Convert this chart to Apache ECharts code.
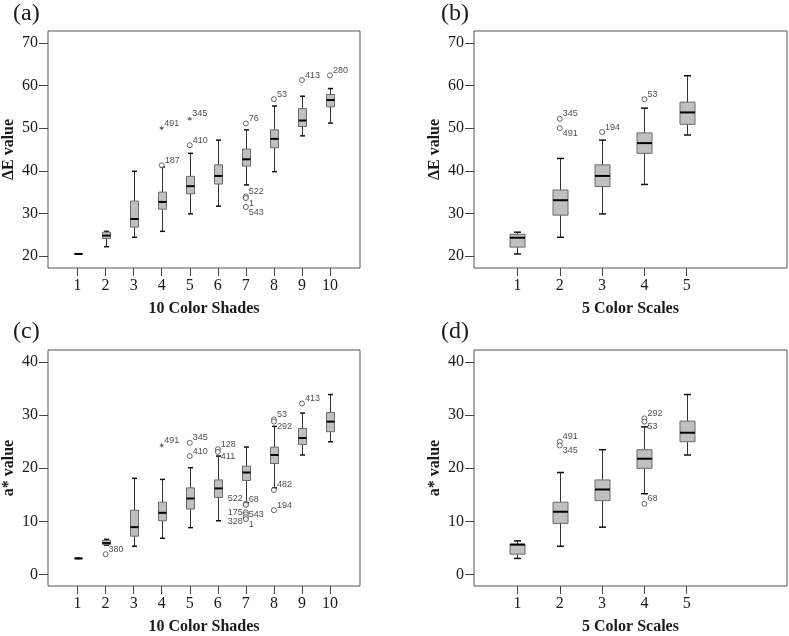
<!DOCTYPE html>
<html><head><meta charset="utf-8">
<script src="https://cdn.jsdelivr.net/npm/echarts@6/dist/echarts.min.js"></script>
<style>html,body{margin:0;padding:0;background:#fff}#c{width:789px;height:636px}</style>
</head><body><div id="c"></div>
<script>
// ---------------- DATA ----------------
const catsShades = [1,2,3,4,5,6,7,8,9,10];
const catsScales = [1,2,3,4,5];
const ticksDE = [20,30,40,50,60,70];
const ticksA = [0,10,20,30,40];

// [min, Q1, median, Q3, max]
const boxA = [
  [20.5,20.5,20.5,20.5,20.5],
  [22.2,24.1,24.8,25.6,25.8],
  [24.4,26.8,28.7,32.9,39.9],
  [25.8,31.0,32.7,35.0,40.9],
  [29.9,34.6,36.4,38.7,44.1],
  [31.7,36.9,38.8,41.4,47.2],
  [36.7,41.1,42.7,45.1,49.6],
  [39.8,45.4,47.5,49.6,55.2],
  [48.2,50.4,51.8,54.6,57.5],
  [51.2,55.0,56.6,57.9,59.3]
];
const outA  = [[4,41.3,'187'],[5,46.0,'410'],[7,51.1,'76'],[7,34.0,'522'],[7,33.6,'1'],[7,31.5,'543'],[8,56.8,'53'],[9,61.3,'413'],[10,62.4,'280']];
const starA = [[4,50.0,'491'],[5,52.2,'345']];

const boxB = [
  [20.5,22.1,24.3,25.1,25.6],
  [24.4,29.6,33.1,35.5,42.9],
  [29.9,36.3,38.8,41.4,47.2],
  [36.8,44.1,46.5,48.9,54.7],
  [48.4,50.9,53.7,56.1,62.3]
];
const outB  = [[2,52.2,'345'],[2,50.0,'491'],[3,49.1,'194'],[4,56.8,'53']];
const starB = [];

const boxC = [
  [3.0,3.0,3.0,3.0,3.0],
  [5.5,5.6,5.9,6.4,6.6],
  [5.3,7.2,8.9,12.1,18.1],
  [6.8,10.1,11.6,13.6,17.9],
  [8.8,12.3,14.3,16.3,20.1],
  [10.1,14.5,16.2,17.8,22.3],
  [13.5,17.7,19.2,20.4,24.0],
  [16.3,20.9,22.5,24.0,27.9],
  [22.5,24.5,25.7,27.5,30.4],
  [25.0,26.9,28.8,30.5,33.9]
];
const outC  = [[2,3.8,'380'],[5,24.8,'345'],[5,22.3,'410'],[6,23.6,'128'],[6,23.1,'411'],
  [7,13.3,'522'],[7,13.1,'68'],[7,11.7,'175'],[7,11.3,'543'],[7,10.8,'328'],[7,10.4,'1'],
  [8,29.2,'53'],[8,28.8,'292'],[8,15.9,'482'],[8,12.1,'194'],[9,32.2,'413']];
const starC = [[4,24.3,'491']];

const boxD = [
  [3.0,3.8,5.6,5.7,6.3],
  [5.3,9.6,11.8,13.6,19.2],
  [8.9,13.9,16.0,17.8,23.5],
  [15.2,20.0,21.8,23.5,27.8],
  [22.5,25.0,26.7,28.9,33.9]
];
const outD  = [[2,25.0,'491'],[2,24.3,'345'],[4,29.4,'292'],[4,28.8,'53'],[4,13.3,'68']];
const starD = [];

// ---------------- STYLE ----------------
// label placement for outlier ids (default: upper right)
const labelPlace = {
  a: {'1':'lr','543':'lr'},
  b: {'491':'lr'},
  c: {'411':'lr','522':'ul','175':'l','543':'r','328':'ll','1':'lr','292':'lr'},
  d: {'345':'lr','53':'lr'}
};
const placeCfg = {
  ur:{position:'right',offset:[-1,-5]}, lr:{position:'right',offset:[-1,5]}, r:{position:'right',offset:[-1,0]},
  ul:{position:'left',offset:[1,-5]}, l:{position:'left',offset:[1,0]}, ll:{position:'left',offset:[1,4]}
};

const SERIF = '"Liberation Serif","Times New Roman",serif';
const NARROW = '"Liberation Sans Narrow","Liberation Sans",Arial,sans-serif';
const TXT = '#1a1a1a';

const panels = [
  {key:'a', box:boxA, out:outA, star:starA, cats:catsShades, ticks:ticksDE, left:48, top:31, width:312, xmin:-0.054, xmax:11.07, ymin:17.2, ymax:72.8, xname:'10 Color Shades', yname:'ΔE value', boxW:8, capW:5},
  {key:'b', box:boxB, out:outB, star:starB, cats:catsScales, ticks:ticksDE, left:474, top:31, width:313, xmin:-0.027, xmax:7.37, ymin:17.2, ymax:72.8, xname:'5 Color Scales', yname:'ΔE value', boxW:15, capW:7},
  {key:'c', box:boxC, out:outC, star:starC, cats:catsShades, ticks:ticksA, left:48, top:350, width:312, xmin:-0.054, xmax:11.07, ymin:-2.2, ymax:42.3, xname:'10 Color Shades', yname:'a* value', boxW:8, capW:5},
  {key:'d', box:boxD, out:outD, star:starD, cats:catsScales, ticks:ticksA, left:474, top:350, width:313, xmin:-0.027, xmax:7.37, ymin:-2.2, ymax:42.3, xname:'5 Color Scales', yname:'a* value', boxW:15, capW:7}
];

function makeRender(boxW, capW){
  return function(params, api){
    const x = api.value(0);
    const p = [1,2,3,4,5].map(i => api.coord([x, api.value(i)]));
    const cx = Math.round(p[0][0]) + 0.5;
    const yMin=p[0][1], yQ1=p[1][1], yMed=p[2][1], yQ3=p[3][1], yMax=p[4][1];
    const wl = {stroke:'#333', lineWidth:1};
    const cap = {stroke:'#111', lineWidth:1.5};
    return {type:'group', children:[
      {type:'line', shape:{x1:cx,y1:yQ3,x2:cx,y2:yMax}, style:wl},
      {type:'line', shape:{x1:cx,y1:yQ1,x2:cx,y2:yMin}, style:wl},
      {type:'line', shape:{x1:cx-capW/2,y1:yMax,x2:cx+capW/2,y2:yMax}, style:cap},
      {type:'line', shape:{x1:cx-capW/2,y1:yMin,x2:cx+capW/2,y2:yMin}, style:cap},
      {type:'rect', shape:{x:cx-boxW/2, y:yQ3, width:boxW, height:yQ1-yQ3}, style:{fill:'#c0c0c0', stroke:'#6a6a6a', lineWidth:1}},
      {type:'line', shape:{x1:cx-boxW/2,y1:yMed,x2:cx+boxW/2,y2:yMed}, style:{stroke:'#000', lineWidth:2}}
    ]};
  };
}

function outlierData(list, key){
  return list.map(o => {
    const pl = placeCfg[(labelPlace[key]||{})[o[2]] || 'ur'];
    return {value:[o[0],o[1]], name:o[2], label:{position:pl.position, offset:pl.offset, distance:1}};
  });
}

const option = {
  animation:false,
  backgroundColor:'#fff',
  title: [
    {text:'(a)', left:13, top:2},
    {text:'(b)', left:441, top:2},
    {text:'(c)', left:13, top:320},
    {text:'(d)', left:441, top:320}
  ].map(t => Object.assign(t, {padding:0, textStyle:{fontFamily:SERIF, fontSize:24, fontWeight:'normal', color:TXT}})),
  grid: panels.map(p => ({left:p.left, top:p.top, width:p.width, height:237, show:true, borderColor:'#555', borderWidth:1, backgroundColor:'transparent'})),
  xAxis: panels.map((p,i) => ({
    type:'value', gridIndex:i, min:p.xmin, max:p.xmax,
    name:p.xname, nameLocation:'middle', nameGap:33,
    nameTextStyle:{fontFamily:SERIF, fontSize:16, fontWeight:'bold', color:TXT},
    axisLine:{show:false, onZero:false},
    axisTick:{show:true, length:8, inside:false, lineStyle:{color:'#444'}, customValues:p.cats},
    axisLabel:{customValues:p.cats, margin:10, fontFamily:SERIF, fontSize:16, color:TXT},
    splitLine:{show:false}
  })),
  yAxis: panels.map((p,i) => ({
    type:'value', gridIndex:i, min:p.ymin, max:p.ymax,
    name:p.yname, nameLocation:'middle', nameGap:31, nameRotate:90,
    nameTextStyle:{fontFamily:SERIF, fontSize:16, fontWeight:'bold', color:TXT},
    axisLine:{show:false, onZero:false},
    axisTick:{show:true, length:9, inside:false, lineStyle:{color:'#444'}, customValues:p.ticks},
    axisLabel:{customValues:p.ticks, margin:10, fontFamily:SERIF, fontSize:16, color:TXT},
    splitLine:{show:false}
  })),
  series: []
};

panels.forEach((p,i) => {
  option.series.push({
    type:'custom', xAxisIndex:i, yAxisIndex:i,
    renderItem: makeRender(p.boxW, p.capW),
    encode:{x:0, y:[1,2,3,4,5]},
    data: p.box.map((b,j) => [p.cats[j]].concat(b)),
    silent:true, z:2
  });
  const lbl = {show:true, formatter:'{b}', fontFamily:NARROW, fontSize:9, color:'#222'};
  option.series.push({
    type:'scatter', xAxisIndex:i, yAxisIndex:i, symbol:'circle', symbolSize:5,
    itemStyle:{color:'#fff', borderColor:'#444', borderWidth:1},
    label:lbl, data: outlierData(p.out, p.key), silent:true, z:3
  });
  if (p.star.length) option.series.push({
    type:'scatter', xAxisIndex:i, yAxisIndex:i,
    symbol:'path://M0,-10L2,-3.5L8.7,-5L4,0L8.7,5L2,3.5L0,10L-2,3.5L-8.7,5L-4,0L-8.7,-5L-2,-3.5Z', symbolSize:5,
    itemStyle:{color:'#333'},
    label:lbl, data: outlierData(p.star, p.key), silent:true, z:3
  });
});

const chart = echarts.init(document.getElementById('c'), null, {renderer:'canvas'});
chart.setOption(option);
</script>
</body></html>
